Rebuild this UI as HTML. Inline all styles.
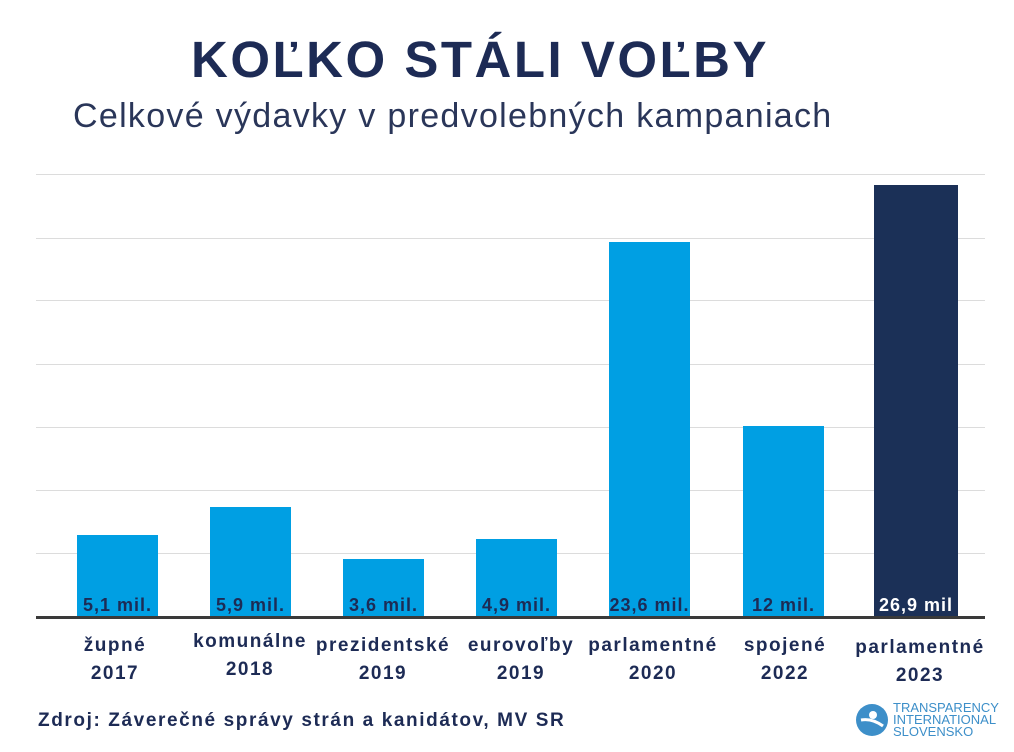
<!DOCTYPE html>
<html><head><meta charset="utf-8"><style>
body{margin:0;width:1014px;height:752px;background:#fff;position:relative;overflow:hidden;font-family:"Liberation Sans","DejaVu Sans",sans-serif;color:#1d2b55}
.a{position:absolute}
.g{position:absolute;left:36px;width:949px;height:1px;background:#dcdcdc}
.b{position:absolute;width:81px;background:#009fe3}
.v{position:absolute;bottom:1px;left:-10px;right:-10px;text-align:center;font-weight:bold;font-size:18px;letter-spacing:1px;color:#1d2b55;white-space:nowrap}
.c{position:absolute;width:170px;text-align:center;font-weight:bold;font-size:19px;letter-spacing:1.5px;line-height:28px;top:632px;white-space:nowrap}
</style></head><body>
<div class="a" style="left:0;width:960px;top:30px;text-align:center;font-weight:bold;font-size:51px;letter-spacing:2.5px;color:#1d2b55">KOĽKO STÁLI VOĽBY</div>
<div class="a" style="left:73px;top:97px;font-size:34px;letter-spacing:1.3px;color:#2a3659;white-space:nowrap">Celkové výdavky v predvolebných kampaniach</div>
<div class="g" style="top:174px"></div><div class="g" style="top:238px"></div><div class="g" style="top:300px"></div><div class="g" style="top:364px"></div><div class="g" style="top:427px"></div><div class="g" style="top:490px"></div><div class="g" style="top:553px"></div>
<div class="b" style="left:77px;top:535px;height:82px"><div class="v">5,1 mil.</div></div>
<div class="b" style="left:210px;top:507px;height:110px"><div class="v">5,9 mil.</div></div>
<div class="b" style="left:343px;top:559px;height:58px"><div class="v">3,6 mil.</div></div>
<div class="b" style="left:476px;top:539px;height:78px"><div class="v">4,9 mil.</div></div>
<div class="b" style="left:609px;top:242px;height:375px"><div class="v">23,6 mil.</div></div>
<div class="b" style="left:743px;top:426px;height:191px"><div class="v">12 mil.</div></div>
<div class="b" style="left:874px;top:185px;height:432px;width:84px;background:#1b3057"><div class="v" style="color:#fff">26,9 mil</div></div>
<div class="a" style="left:36px;top:616px;width:949px;height:3px;background:#3a3a3a"></div>
<div class="c" style="left:30px">župné<br>2017</div>
<div class="c" style="left:165px;top:628px">komunálne<br>2018</div>
<div class="c" style="left:298px">prezidentské<br>2019</div>
<div class="c" style="left:436px">eurovoľby<br>2019</div>
<div class="c" style="left:568px">parlamentné<br>2020</div>
<div class="c" style="left:700px">spojené<br>2022</div>
<div class="c" style="left:835px;top:634px">parlamentné<br>2023</div>
<div class="a" style="left:38px;top:710px;font-weight:bold;font-size:19px;letter-spacing:1.6px;white-space:nowrap">Zdroj: Záverečné správy strán a kanidátov, MV SR</div>
<svg class="a" style="left:855px;top:703px" width="34" height="34"><circle cx="17" cy="17" r="16" fill="#3d8fc9"/><circle cx="18" cy="12" r="4" fill="#fff"/><path d="M6 17 q11 -2 22 6" stroke="#fff" stroke-width="3" fill="none"/></svg>
<div class="a" style="left:893px;top:702px;font-size:13px;line-height:12px;color:#3d8fc9">TRANSPARENCY<br>INTERNATIONAL<br>SLOVENSKO</div>
</body></html>
